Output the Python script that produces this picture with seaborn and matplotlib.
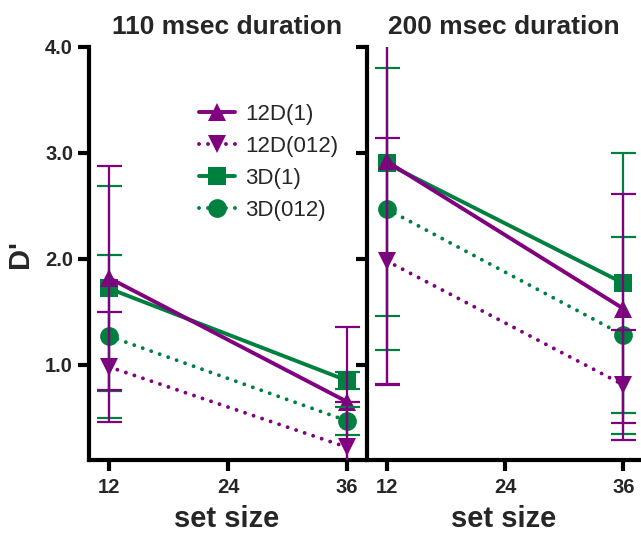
import matplotlib
matplotlib.use("Agg")
import matplotlib.pyplot as plt
import pandas as pd
import seaborn as sns

set_size = [12, 36]
panels = ["110 msec duration", "200 msec duration"]

# mean D' and error per panel: [110 msec, 200 msec]
d12_1 = [[1.82, 0.65], [2.92, 1.53]]
d12_1_err = [[1.06, 0.71], [2.11, 1.08]]
d12_012 = [[0.98, 0.22], [1.98, 0.81]]
d12_012_err = [[0.52, 0.43], [1.16, 0.52]]
d3_1 = [[1.72, 0.85], [2.90, 1.77]]
d3_1_err = [[0.97, 0.08], [1.44, 1.23]]
d3_012 = [[1.27, 0.47], [2.47, 1.28]]
d3_012_err = [[0.77, 0.13], [1.33, 0.93]]

PURPLE = "#800080"
GREEN = "#00803F"
DOT = (0, (0.01, 2.3))

series = [
    ("3D(1)", d3_1, d3_1_err, GREEN, "s", "-"),
    ("3D(012)", d3_012, d3_012_err, GREEN, "o", DOT),
    ("12D(1)", d12_1, d12_1_err, PURPLE, "^", "-"),
    ("12D(012)", d12_012, d12_012_err, PURPLE, "v", DOT),
]
legend_order = ["12D(1)", "12D(012)", "3D(1)", "3D(012)"]

sns.set_theme(style="ticks")
plt.rcParams["font.family"] = ["Liberation Sans", "DejaVu Sans"]

fig = plt.figure(figsize=(6.41, 5.34), dpi=100)
W, H = 641, 534
boxes = [(89, 47, 365, 460), (367, 47, 641, 460)]

handles = {}
for p, title in enumerate(panels):
    x0, y0, x1, y1 = boxes[p]
    ax = fig.add_axes([x0 / W, 1 - y1 / H, (x1 - x0) / W, (y1 - y0) / H])
    for name, vals, errs, col, mk, ls in series:
        df = pd.DataFrame({"set size": set_size, "d": vals[p]})
        sns.lineplot(data=df, x="set size", y="d", ax=ax, color=col,
                     marker=mk, markersize=13.5, markeredgewidth=0,
                     linestyle=ls, linewidth=2.8,
                     dash_capstyle="round", zorder=3)
        handles[name] = ax.lines[-1]
        ax.errorbar(set_size, vals[p], yerr=errs[p], fmt="none", ecolor=col,
                    elinewidth=1.6, capsize=9, capthick=1.6, zorder=4)
    ax.set_xlim(10, 37.8)
    ax.set_ylim(0.1, 4.0)
    ax.set_xticks([12, 24, 36])
    ax.set_yticks([1, 2, 3, 4])
    ax.set_xlabel("set size", fontsize=21, fontweight="bold", labelpad=6)
    ax.set_title(title, fontsize=19, fontweight="bold", pad=9)
    for s in ["top", "right"]:
        ax.spines[s].set_visible(False)
    for s in ["left", "bottom"]:
        ax.spines[s].set_linewidth(3)
        ax.spines[s].set_color("black")
    ax.tick_params(axis="both", width=3, length=8, color="black",
                   labelsize=14.5)
    ax.tick_params(axis="x", pad=5)
    for lab in ax.get_xticklabels() + ax.get_yticklabels():
        lab.set_fontweight("bold")
    ax.set_facecolor("white")
    if p == 0:
        ax.set_yticklabels(["1.0", "2.0", "3.0", "4.0"])
        ax.set_ylabel("D'", fontsize=21, fontweight="bold", labelpad=8)
        ax.legend([handles[n] for n in legend_order], legend_order,
                  loc="upper left", bbox_to_anchor=(0.36, 0.89),
                  frameon=False, fontsize=16, handlelength=1.6,
                  handletextpad=0.45, labelspacing=0.5, borderpad=0)
    else:
        ax.set_yticklabels([])
        ax.set_ylabel("")

fig.savefig("out.png", dpi=100, facecolor="white")
